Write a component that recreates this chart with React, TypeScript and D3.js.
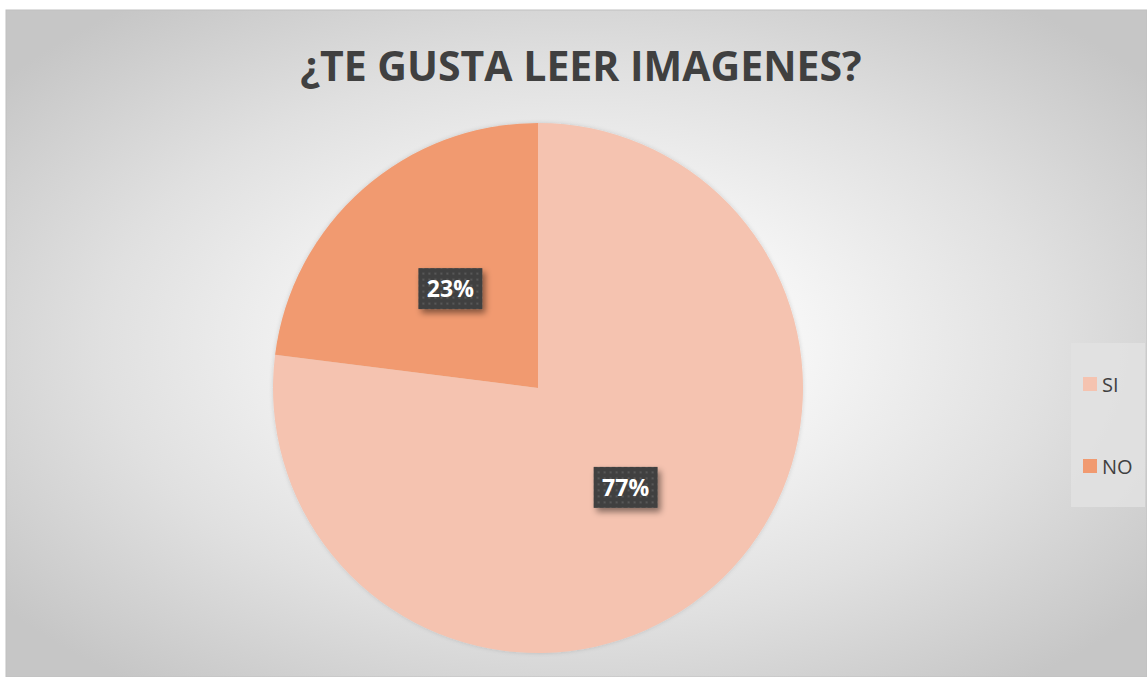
import React from "react";
import * as d3 from "d3";

const categories = ["SI", "NO"];
const values = [77, 23];
const colors = ["#F5C3B0", "#F19A70"];
const title = "¿TE GUSTA LEER IMAGENES?";

const W = 1147;
const H = 677;

export default function App() {
  const cx = 538;
  const cy = 388;
  const r = 265;
  const pie = d3.pie<number>().sort(null).value((d) => d)(values);
  const arc = d3.arc<d3.PieArcDatum<number>>().innerRadius(0).outerRadius(r);
  const labelArc = d3.arc<d3.PieArcDatum<number>>().innerRadius(r).outerRadius(r);
  const total = d3.sum(values);
  const legendY = d3.scalePoint<string>().domain(categories).range([384, 466]);

  return (
    <svg
      width={W}
      height={H}
      style={{ position: "absolute", left: 0, top: 0, fontFamily: "'Open Sans', sans-serif" }}
    >
      <defs>
        <radialGradient id="bg" cx="0.5" cy="0.5" r="0.64" gradientUnits="objectBoundingBox">
          <stop offset="0" stopColor="#ffffff" />
          <stop offset="0.3" stopColor="#f6f6f6" />
          <stop offset="0.65" stopColor="#e0e0e0" />
          <stop offset="1" stopColor="#c6c6c6" />
        </radialGradient>
        <pattern id="dots" width="6" height="6" patternUnits="userSpaceOnUse">
          <rect width="6" height="6" fill="#404040" />
          <rect x="2" y="2" width="2" height="2" fill="#585858" />
        </pattern>
        <filter id="shadow" x="-30%" y="-30%" width="170%" height="180%">
          <feDropShadow dx="3" dy="4" stdDeviation="3" floodColor="#000" floodOpacity="0.45" />
        </filter>
        <filter id="pieShadow" x="-10%" y="-10%" width="120%" height="120%">
          <feDropShadow dx="0" dy="0" stdDeviation="2" floodColor="#000" floodOpacity="0.15" />
        </filter>
      </defs>
      <rect x={0} y={0} width={W} height={H} fill="#ffffff" />
      <rect x={6} y={10} width={W - 6} height={H - 10} fill="url(#bg)" stroke="#c0c0c0" strokeWidth={1} />
      <text
        x={581}
        y={81}
        textAnchor="middle"
        fontSize={41}
        fontWeight="bold"
        fill="#404040"
      >
        {title}
      </text>
      <g transform={`translate(${cx},${cy})`} filter="url(#pieShadow)">
        {pie.map((p, i) => (
          <path key={categories[i]} d={arc(p) || ""} fill={colors[i]} />
        ))}
      </g>
      <g transform={`translate(${cx},${cy})`}>
        {pie.map((p, i) => {
          const [mx, my] = labelArc.centroid(p);
          const lx = mx * 0.5;
          const ly = my * 0.5;
          const bw = 64;
          const bh = 41;
          return (
            <g key={categories[i]} transform={`translate(${lx},${ly})`}>
              <rect x={-bw / 2} y={-bh / 2} width={bw} height={bh} fill="url(#dots)" filter="url(#shadow)" />
              <text x={0} y={8.5} textAnchor="middle" fontSize={23} fontWeight="bold" fill="#ffffff">
                {`${Math.round((values[i] / total) * 100)}%`}
              </text>
            </g>
          );
        })}
      </g>
      <rect x={1071} y={343} width={74} height={164} fill="#e2e2e2" fillOpacity={0.85} />
      {categories.map((c, i) => {
        const y = legendY(c) as number;
        return (
          <g key={c}>
            <rect x={1083} y={y - 7} width={14} height={14} fill={colors[i]} />
            <text x={1102} y={y + 7.5} fontSize={20} fill="#404040">
              {c}
            </text>
          </g>
        );
      })}
    </svg>
  );
}
